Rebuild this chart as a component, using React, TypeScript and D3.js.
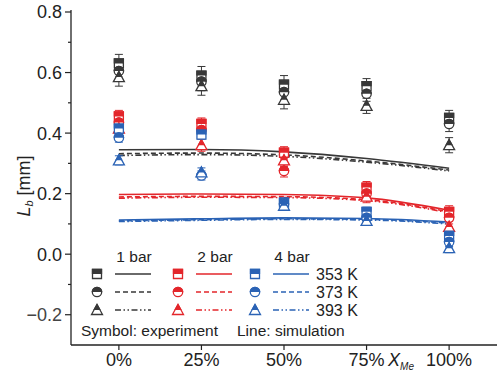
import React from 'react';
import * as d3 from 'd3';

// x positions (methanol fraction, %)
const xMe = [0, 25, 50, 75, 100];
const xTickLabels = ['0%', '25%', '50%', '75%', '100%'];
const yTicks = [-0.2, 0.0, 0.2, 0.4, 0.6, 0.8];
const yMinorTicks = [-0.1, 0.1, 0.3, 0.5, 0.7];

const pressures = ['1 bar', '2 bar', '4 bar'];
const temps = ['353 K', '373 K', '393 K'];

// experiment values (mm)
const exp1bar353 = [0.63, 0.59, 0.56, 0.555, 0.45];
const exp1bar373 = [0.605, 0.57, 0.535, 0.53, 0.43];
const exp1bar393 = [0.585, 0.555, 0.51, 0.49, 0.36];
const exp2bar353 = [0.455, 0.43, 0.335, 0.22, 0.14];
const exp2bar373 = [0.435, 0.41, 0.275, 0.2, 0.12];
const exp2bar393 = [0.415, 0.36, 0.31, 0.19, 0.09];
const exp4bar353 = [0.415, 0.395, 0.17, 0.14, 0.06];
const exp4bar373 = [0.385, 0.26, 0.165, 0.12, 0.04];
const exp4bar393 = [0.31, 0.27, 0.16, 0.11, 0.02];

// error bar half-widths
const err1bar = [0.03, 0.03, 0.03, 0.025, 0.025];
const err2bar = [0.02, 0.02, 0.02, 0.02, 0.02];
const err4bar = [0.015, 0.015, 0.015, 0.015, 0.015];

// simulation values (mm)
const sim1bar353 = [0.345, 0.346, 0.338, 0.316, 0.284];
const sim1bar373 = [0.332, 0.334, 0.328, 0.308, 0.278];
const sim1bar393 = [0.326, 0.329, 0.323, 0.304, 0.275];
const sim2bar353 = [0.197, 0.199, 0.197, 0.186, 0.145];
const sim2bar373 = [0.189, 0.191, 0.19, 0.18, 0.14];
const sim2bar393 = [0.185, 0.188, 0.187, 0.177, 0.137];
const sim4bar353 = [0.113, 0.117, 0.12, 0.118, 0.106];
const sim4bar373 = [0.11, 0.114, 0.117, 0.115, 0.103];
const sim4bar393 = [0.108, 0.112, 0.115, 0.113, 0.1];

const colors = ['#383838', '#e3262b', '#2b63b5'];
const dashes = ['none', '5,3', '6,2.5,1.5,2.5,1.5,2.5'];
const shapes = ['square', 'circle', 'triangle'];

const expData = [
  [exp1bar353, exp1bar373, exp1bar393],
  [exp2bar353, exp2bar373, exp2bar393],
  [exp4bar353, exp4bar373, exp4bar393],
];
const errData = [err1bar, err2bar, err4bar];
const simData = [
  [sim1bar353, sim1bar373, sim1bar393],
  [sim2bar353, sim2bar373, sim2bar393],
  [sim4bar353, sim4bar373, sim4bar393],
];

const W = 497;
const H = 378;
const font = 'Liberation Sans, Arial, sans-serif';

const x = d3.scaleLinear().domain([-14.5, 114.5]).range([71, 497]);
const y = d3.scaleLinear().domain([-0.3, 0.8]).range([345, 12]);

function shapePath(shape: string) {
  if (shape === 'square') return 'M-4.5,-4.5H4.5V4.5H-4.5Z';
  if (shape === 'circle') return 'M-4.7,0A4.7,4.7 0 1,1 4.7,0A4.7,4.7 0 1,1 -4.7,0Z';
  return 'M0,-5.5L5.5,4.5H-5.5Z';
}

const Marker = ({ cx, cy, shape, color }: { cx: number; cy: number; shape: string; color: string }) => {
  const d = shapePath(shape);
  return (
    <g transform={`translate(${cx},${cy})`}>
      <path d={d} fill="#fff" stroke={color} strokeWidth={1.3} />
      <path d={d} fill={color} stroke={color} strokeWidth={1.3} clipPath="url(#tophalf)" />
    </g>
  );
};

export default function App() {
  const line = d3
    .line<number>()
    .x((_, i) => x(xMe[i]))
    .y((d) => y(d))
    .curve(d3.curveMonotoneX);

  const legX = [97, 178, 255];
  const legRowY = [274, 292, 310];

  return (
    <svg width={W} height={H} style={{ position: 'absolute', left: 0, top: 0, background: '#fff' }} fontFamily={font}>
      <defs>
        <clipPath id="tophalf" clipPathUnits="userSpaceOnUse">
          <rect x={-8} y={-8} width={16} height={8} />
        </clipPath>
      </defs>

      {/* simulation lines */}
      {simData.map((group, p) =>
        group.map((vals, t) => (
          <path key={`s${p}${t}`} d={line(vals) || ''} fill="none" stroke={colors[p]} strokeWidth={1.6} strokeDasharray={dashes[t]} />
        ))
      )}

      {/* experiment points with error bars */}
      {expData.map((group, p) =>
        group.map((vals, t) =>
          vals.map((v, i) => {
            const e = errData[p][i];
            const cx = x(xMe[i]);
            return (
              <g key={`e${p}${t}${i}`}>
                <line x1={cx} x2={cx} y1={y(v - e)} y2={y(v + e)} stroke={colors[p]} strokeWidth={1} />
                <line x1={cx - 4} x2={cx + 4} y1={y(v - e)} y2={y(v - e)} stroke={colors[p]} strokeWidth={1} />
                <line x1={cx - 4} x2={cx + 4} y1={y(v + e)} y2={y(v + e)} stroke={colors[p]} strokeWidth={1} />
              </g>
            );
          })
        )
      )}
      {expData.map((group, p) =>
        group.map((vals, t) =>
          vals.map((v, i) => (
            <Marker key={`m${p}${t}${i}`} cx={x(xMe[i])} cy={y(v)} shape={shapes[t]} color={colors[p]} />
          ))
        )
      )}

      {/* axes */}
      <line x1={71} x2={71} y1={10} y2={345} stroke="#222" strokeWidth={1.3} />
      <line x1={71} x2={497} y1={345} y2={345} stroke="#222" strokeWidth={1.3} />
      {yTicks.map((t) => (
        <g key={`yt${t}`}>
          <line x1={65} x2={71} y1={y(t)} y2={y(t)} stroke="#222" strokeWidth={1.2} />
          <text x={62} y={y(t)} dy="0.36em" textAnchor="end" fontSize={18} fill={t < 0 ? '#444' : '#222'}>
            {t < 0 ? '\u2212' + Math.abs(t).toFixed(1) : t.toFixed(1)}
          </text>
        </g>
      ))}
      {yMinorTicks.map((t) => (
        <line key={`ym${t}`} x1={68} x2={71} y1={y(t)} y2={y(t)} stroke="#222" strokeWidth={1.2} />
      ))}
      {xMe.map((v, i) => (
        <g key={`xt${v}`}>
          <line x1={x(v)} x2={x(v)} y1={345} y2={350} stroke="#222" strokeWidth={1.2} />
          <text x={x(v)} y={366} textAnchor="middle" fontSize={18} fill="#222">
            {xTickLabels[i]}
          </text>
        </g>
      ))}

      {/* axis titles */}
      <text x={401} y={366} fontSize={18} fontStyle="italic" textAnchor="middle" fill="#222">
        X<tspan fontSize={10} dy={4}>Me</tspan>
      </text>
      <text transform="translate(30,186) rotate(-90)" textAnchor="middle" fontSize={18} fill="#222">
        <tspan fontStyle="italic">L</tspan>
        <tspan fontStyle="italic" fontSize={11} dy={3}>b</tspan>
        <tspan dy={-3}> [mm]</tspan>
      </text>

      {/* legend */}
      {pressures.map((p, i) => (
        <text key={p} x={legX[i] + 37} y={262} textAnchor="middle" fontSize={15.5} fill="#222">
          {p}
        </text>
      ))}
      {pressures.map((p, i) =>
        temps.map((tk, t) => (
          <g key={`lg${i}${t}`}>
            <Marker cx={legX[i]} cy={legRowY[t]} shape={shapes[t]} color={colors[i]} />
            <line x1={legX[i] + 18} x2={legX[i] + 54} y1={legRowY[t]} y2={legRowY[t]} stroke={colors[i]} strokeWidth={1.4} strokeDasharray={dashes[t]} />
          </g>
        ))
      )}
      {temps.map((tk, t) => (
        <text key={tk} x={316} y={legRowY[t]} dy="0.38em" fontSize={16} fill="#222">
          {tk}
        </text>
      ))}
      <text x={81} y={336} fontSize={15.5} fill="#222">
        Symbol: experiment
      </text>
      <text x={237} y={336} fontSize={15.5} fill="#222">
        Line: simulation
      </text>
    </svg>
  );
}
